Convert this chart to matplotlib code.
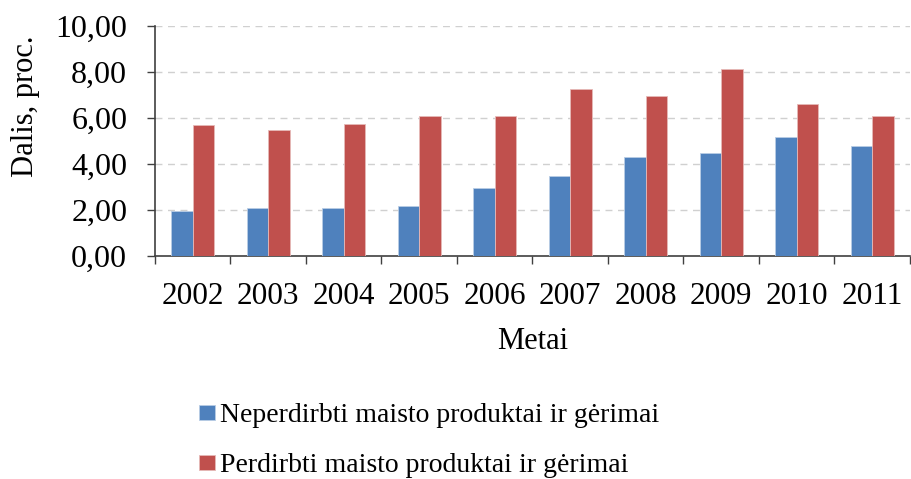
import matplotlib
matplotlib.use("Agg")
import matplotlib.pyplot as plt
import numpy as np

years = ["2002", "2003", "2004", "2005", "2006", "2007", "2008", "2009", "2010", "2011"]
unprocessed = [1.96, 2.07, 2.07, 2.19, 2.97, 3.48, 4.32, 4.48, 5.19, 4.80]
processed = [5.70, 5.49, 5.75, 6.09, 6.09, 7.26, 6.97, 8.14, 6.59, 6.09]
series_labels = ["Neperdirbti maisto produktai ir gėrimai",
                 "Perdirbti maisto produktai ir gėrimai"]
yticks = [0, 2, 4, 6, 8, 10]
ytick_labels = ["0,00", "2,00", "4,00", "6,00", "8,00", "10,00"]

plt.rcParams['font.family'] = ['Liberation Serif', 'DejaVu Serif']

fig = plt.figure(figsize=(9.12, 4.79), dpi=100)
ax = fig.add_axes([155/912, (479-256)/479, (910-155)/912, 230/479])

x = np.arange(len(years))
w = 0.285
ax.bar(x - w/2, unprocessed, w, color="#4F81BD", edgecolor="#B9CDE5", linewidth=0.6,
       label=series_labels[0], zorder=3)
ax.bar(x + w/2, processed, w, color="#C0504D", edgecolor="#E6B9B8", linewidth=0.6,
       label=series_labels[1], zorder=3)

ax.set_xlim(-0.5, len(years) - 0.5)
ax.set_ylim(0, 10)
ax.set_yticks(yticks)
ax.set_yticklabels(ytick_labels, fontsize=23)
ax.set_xticks(x)
ax.set_xticklabels(years, fontsize=22.5)
ax.set_xticks(np.arange(len(years) + 1) - 0.5, minor=True)
ax.tick_params(axis='x', which='major', length=0, pad=19)
ax.tick_params(axis='x', which='minor', length=6, width=1, color="#404040")
ax.tick_params(axis='y', length=6, width=1, color="#404040", pad=14)

for s in ["top", "right"]:
    ax.spines[s].set_visible(False)
for s in ["left", "bottom"]:
    ax.spines[s].set_color("#404040")
    ax.spines[s].set_linewidth(1.2)

ax.grid(axis='y', linestyle=(0, (5, 4)), color="#D0D0D0", linewidth=1, zorder=0)
ax.set_axisbelow(True)

ax.set_xlabel("Metai", fontsize=22, labelpad=11)
ax.set_ylabel("Dalis, proc.", fontsize=22)
ax.yaxis.set_label_coords(-0.152, 0.652)

leg = fig.legend(loc="upper left", bbox_to_anchor=(188/912, 1 - 392/479), ncol=1,
                 frameon=False, fontsize=20, handlelength=0.58, handleheight=0.47,
                 handletextpad=0.18, labelspacing=0.9, borderaxespad=0)

fig.savefig("out.png", dpi=100)
